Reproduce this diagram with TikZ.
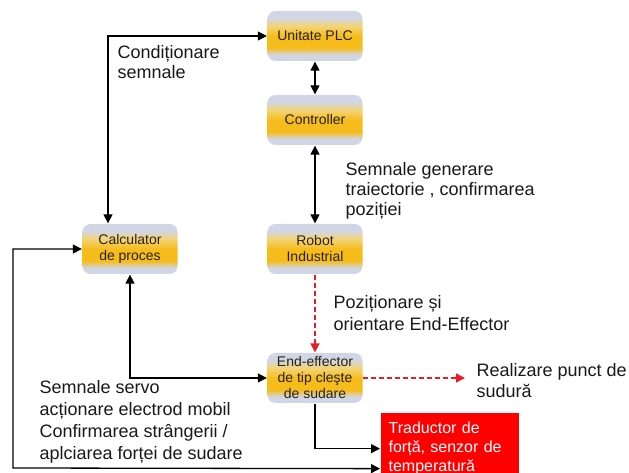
\documentclass[tikz,border=0pt]{standalone}
\usepackage{fontspec}
\setmainfont{Liberation Sans}
\usetikzlibrary{arrows.meta}

\definecolor{boxgray}{RGB}{208,214,230}
\definecolor{boxgold}{RGB}{246,188,28}
\definecolor{boxlight}{RGB}{244,212,118}
\definecolor{txtdark}{RGB}{40,34,20}
\definecolor{txtblack}{RGB}{25,25,25}
\definecolor{sensred}{RGB}{255,0,0}
\definecolor{dashred}{RGB}{236,28,36}

\pgfdeclareverticalshading{plcshade}{100bp}{color(0bp)=(boxgray); color(31bp)=(boxgray); color(38bp)=(boxgold); color(50bp)=(boxgold); color(60bp)=(boxlight); color(68bp)=(boxgray); color(100bp)=(boxgray)}

\tikzset{
  unit/.style={shade,shading=plcshade,rounded corners=8pt,minimum width=95pt,minimum height=50pt,inner sep=2pt,align=center,text=txtdark,font=\fontsize{14}{16}\selectfont},
  sensor/.style={fill=sensred,anchor=north west,minimum height=72pt,text width=122pt,inner xsep=8pt,align=left,text=white,font=\fontsize{16}{19}\selectfont},
  lbl/.style={anchor=north west,inner sep=0pt,align=left,text=txtblack,font=\fontsize{18}{21}\selectfont},
  reddash/.style={dashred,dash pattern=on 5pt off 3pt,line width=1.6pt}
}

\begin{document}
\begin{tikzpicture}[x=1pt,y=1pt,node distance=129pt,>={Triangle[length=9pt,width=9pt]},line width=1.3pt]
        \useasboundingbox (0,0) rectangle (629,473);
        % Nodes
        \node[unit] (plc) at (315,437) {Unitate PLC};
        \node[unit,below of=plc,node distance=84pt] (ctrl) {Controller};
        \node[unit,below of=ctrl] (robot) {Robot\\Industrial};
        \node[unit,below of=robot] (eff) {End-effector\\de tip cleşte\\de sudare};
        \node[unit,left of=robot,node distance=185pt] (calc) {Calculator\\de proces};
        \node[sensor] (trad) at (380,61) {Traductor de\\forță, senzor de\\temperatură};
        \coordinate (loopturn) at (13,5);
        \coordinate (weld) at (465,95);

        % Connections
        \draw[<->] ([xshift=-22pt]calc.north) |- (plc.west);
        \draw[<->] (plc) -- (ctrl);
        \draw[<->] (ctrl) -- (robot);
        \draw[reddash,->] (robot) -- (eff);
        \draw[reddash,->] (eff) -- (weld);
        \draw[<->] (calc.south) |- (eff.west);
        \draw[->] (eff.south) |- (trad.west);
        \draw[<->] ([yshift=-20pt]trad.west) -- (loopturn) |- (calc.west);

        % Labels
        \node[lbl,font=\fontsize{18}{20}\selectfont] (condlbl) at (117,428) {Condiționare\\semnale};
        \node[lbl,font=\fontsize{18}{20}\selectfont] (genlbl) at (345,311) {Semnale generare\\traiectorie , confirmarea\\poziției};
        \node[lbl,font=\fontsize{18}{22}\selectfont] (pozlbl) at (333,178) {Poziționare și\\orientare End-Effector};
        \node[lbl] (weldlbl) at (476,110) {Realizare punct de\\sudură};
        \node[lbl,font=\fontsize{18}{22}\selectfont] (servolbl) at (39,93) {Semnale servo\\acționare electrod mobil\\Confirmarea strângerii /\\aplciarea forței de sudare};
    \end{tikzpicture}
\end{document}
